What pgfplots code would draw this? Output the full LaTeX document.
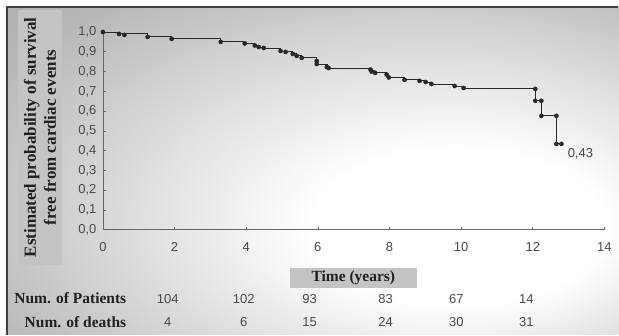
\documentclass[border=0pt]{standalone}
\usepackage{fontspec}
\setmainfont{Liberation Serif}
\newfontfamily\arialf{Liberation Sans}
\usepackage{pgfplots}
\pgfplotsset{compat=1.18}
\definecolor{tickgray}{HTML}{4A4A4A}
\definecolor{linegray}{HTML}{282828}
\definecolor{boxgray}{HTML}{C4C4C4}
\definecolor{framegray}{HTML}{404040}
\pgfdeclareradialshading{bgshade}{\pgfpoint{14bp}{-10bp}}{%
  color(0bp)=(white); color(12bp)=(white); color(38bp)=(gray!55); color(58bp)=(gray!80); color(80bp)=(gray!90)}
\tikzset{numtxt/.style={font=\arialf\fontsize{13}{15}\selectfont, text=tickgray},
  lbltxt/.style={font=\bfseries\fontsize{15.5}{17}\selectfont, text=black!88}}
\begin{document}
\begin{tikzpicture}[x=1pt,y=1pt]
\fill[white] (0,0) rectangle (619,335);
\shade[shading=bgshade] (7,0) rectangle (619,328);
\draw[framegray,line width=1.2pt] (7,0) -- (7,328) -- (619,328);
% y label box
\fill[boxgray] (18,70) rectangle (62,325);
\node[rotate=90,align=center,font=\bfseries\fontsize{17}{20}\selectfont, text=black!88] at (40,197.5)
  {Estimated probability of survival\\free from cardiac events};
\begin{axis}[
  at={(103pt,105pt)}, anchor=south west,
  scale only axis, width=502pt, height=198pt,
  xmin=0, xmax=14, ymin=0, ymax=1,
  axis lines=left, axis line style={gray!80!black, line width=0.7pt, -},
  xtick={0,2,...,14}, ytick={0,0.1,...,1.0},
  tick align=inside, major tick length=3pt,
  tick style={gray!80!black, line width=0.6pt},
  yticklabel={\pgfmathprintnumber[fixed,fixed zerofill,precision=1,use comma]{\tick}},
  xticklabel style={yshift=-9pt},
  yticklabel style={xshift=-3pt},
  ticklabel style={numtxt},
  /pgf/number format/assume math mode=true,
  clip=false,
]
\addplot[const plot, linegray, line width=0.9pt] coordinates {
(0,1.0) (0.45,0.99) (1.25,0.975) (1.92,0.965) (3.29,0.95) (3.96,0.942)
(4.24,0.932) (4.35,0.924) (4.49,0.919) (4.96,0.904) (5.1,0.899) (5.3,0.889)
(5.41,0.879) (5.55,0.869) (5.97,0.838) (6.27,0.818) (7.47,0.803) (7.58,0.793)
(7.92,0.778) (7.98,0.768) (8.42,0.758) (8.84,0.753) (9.01,0.747) (9.17,0.737)
(9.82,0.727) (10.07,0.717) (12.07,0.652) (12.24,0.576) (12.66,0.434) (12.8,0.434)
};
\addplot[only marks, mark=*, mark size=2.1pt, linegray] coordinates {
(0,1.0) (0.45,0.99) (0.6,0.985) (1.25,0.975) (1.92,0.965) (3.29,0.95) (3.96,0.942)
(4.24,0.932) (4.35,0.924) (4.49,0.919) (4.96,0.904) (5.1,0.899) (5.3,0.889)
(5.41,0.879) (5.55,0.869) (5.97,0.853) (5.97,0.838) (6.25,0.823) (6.3,0.818)
(7.47,0.81) (7.5,0.80) (7.6,0.793) (7.92,0.785) (7.98,0.77) (8.42,0.758)
(8.84,0.753) (9.01,0.747) (9.17,0.737) (9.82,0.727) (10.07,0.717)
(12.07,0.712) (12.07,0.652) (12.24,0.652) (12.24,0.576) (12.66,0.576)
(12.66,0.434) (12.8,0.434)
};
\node[numtxt] at (axis cs:13.33,0.384) {0,43};
% Time box
\fill[boxgray] (axis cs:5.21,-0.192) rectangle (axis cs:8.78,-0.293);
\node[lbltxt] at (axis cs:6.99,-0.2425) {Time (years)};
% table
\node[anchor=east, lbltxt] at (axis cs:0.75,-0.348) {Num. of Patients};
\node[anchor=east, lbltxt] at (axis cs:0.75,-0.465) {Num. of deaths};
\node[numtxt] at (axis cs:1.81,-0.348) {104};
\node[numtxt] at (axis cs:3.93,-0.348) {102};
\node[numtxt] at (axis cs:5.77,-0.348) {93};
\node[numtxt] at (axis cs:7.89,-0.348) {83};
\node[numtxt] at (axis cs:9.87,-0.348) {67};
\node[numtxt] at (axis cs:11.82,-0.348) {14};
\node[numtxt] at (axis cs:1.81,-0.465) {4};
\node[numtxt] at (axis cs:3.93,-0.465) {6};
\node[numtxt] at (axis cs:5.77,-0.465) {15};
\node[numtxt] at (axis cs:7.89,-0.465) {24};
\node[numtxt] at (axis cs:9.87,-0.465) {30};
\node[numtxt] at (axis cs:11.82,-0.465) {31};
\end{axis}
\end{tikzpicture}
\end{document}
